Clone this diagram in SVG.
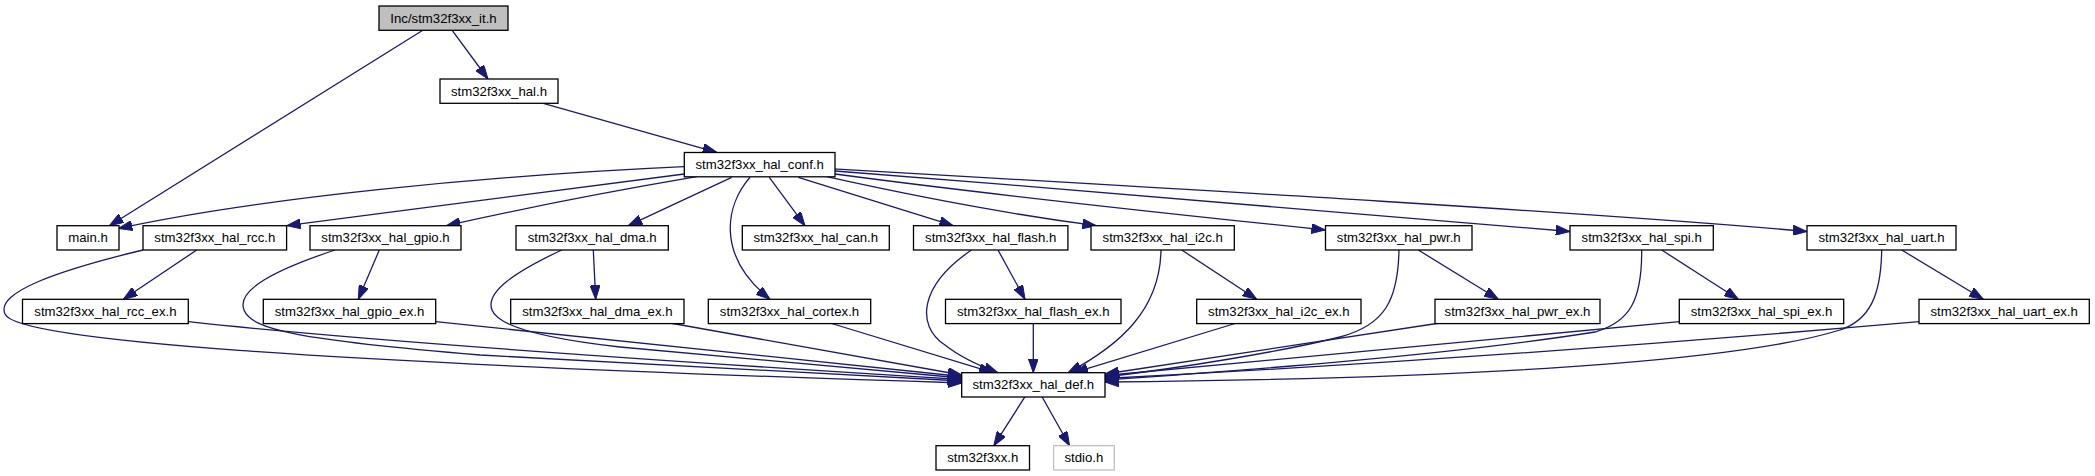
<svg xmlns="http://www.w3.org/2000/svg" width="2095" height="476" viewBox="0 0 2095 476">
<defs>
<style>
.n rect{fill:#fff;stroke:#000;stroke-width:1.3}
.n.root rect{fill:#bfbfbf}
.n.ext rect{stroke:#bfbfbf}
.n text{font-family:"Liberation Sans",Arial,Helvetica,sans-serif;font-size:13.2px;fill:#000;text-anchor:middle}
.e path{fill:none;stroke:#191970;stroke-width:1.3;marker-end:url(#ah)}
</style>
<marker id="ah" viewBox="0 0 14 10" refX="14" refY="5" markerWidth="14" markerHeight="10" markerUnits="userSpaceOnUse" orient="auto">
<path d="M0,0 L14,5 L0,10 z" fill="#191970" stroke="#191970" stroke-width="1"/>
</marker>
</defs>
<rect width="2095" height="476" fill="#fff"/>
<g id="edges" class="e">
<path d="M422.8,30.3 L109.4,225.7"/>
<path d="M452.2,30.3 L488,79"/>
<path d="M543.3,103.3 L716.7,152.3"/>
<path d="M684.3,166.7 C480,176 260,198 118.3,228.5"/>
<path d="M684.3,174 L286.6,225.7"/>
<path d="M696.7,176.7 Q560,200 446.4,225.7"/>
<path d="M731.7,177.3 L628.3,225.7"/>
<path d="M750,177.3 C726,205 715,255 770,299.3"/>
<path d="M769.3,177.3 L805,225.7"/>
<path d="M798.3,177.3 L953.3,225.7"/>
<path d="M826.7,176.7 C900,193 1000,213 1096.4,225.7"/>
<path d="M835,174 C1000,196 1200,217 1325.4,230"/>
<path d="M835,171 C1100,192 1400,216 1569.8,231.5"/>
<path d="M835,169 C1200,190 1600,213 1807,231.5"/>
<path d="M196.7,250 L123.3,299.3"/>
<path d="M379.3,250 L358.3,299.3"/>
<path d="M593.3,250 L595.7,299.3"/>
<path d="M998,250 L1025,299.3"/>
<path d="M1181.7,250 L1256.7,299.3"/>
<path d="M1418.3,250 L1498.3,299.3"/>
<path d="M1661.7,250 L1738.3,299.3"/>
<path d="M1901.7,250 L1983.3,299.3"/>
<path d="M143,250 C60,270 -5,292 5,314 C15,340 300,362 961.7,383"/>
<path d="M188.3,321.7 Q400,345 961.7,379.5"/>
<path d="M335,250 C275,270 236,290 244,310 C252,330 300,340 480,355 L961.7,381"/>
<path d="M435.7,321.7 L961.7,376.5"/>
<path d="M561.7,250 C515,272 485,292 492,310 C498,326 540,338 620,347 L961.7,378"/>
<path d="M670,323 L961.7,375"/>
<path d="M830,323 L993,372.7"/>
<path d="M971.5,250 C920,285 915,325 945,345 C960,357 980,366 998,372.7"/>
<path d="M1033.3,323 L1033.3,372.7"/>
<path d="M1161,250 C1160,310 1120,345 1068,372.7"/>
<path d="M1236.7,323 L1074,372.7"/>
<path d="M1399,250 C1398,300 1385,325 1340,337 C1280,352 1180,368 1105,377"/>
<path d="M1440,323 L1105,374"/>
<path d="M1641.7,250 C1642,300 1630,322 1595,332 C1450,355 1250,370 1105,380"/>
<path d="M1679.3,321.7 L1105,375.5"/>
<path d="M1881.7,250 C1881,295 1870,320 1840,330 C1760,355 1550,378 1105,382"/>
<path d="M1919,321.7 Q1500,358 1105,378.5"/>
<path d="M1025,396.7 L993.8,445.7"/>
<path d="M1042,396.7 L1069.6,445.7"/>
</g>
<g id="n_it" class="n root"><rect x="379" y="6" width="129" height="24.3"/><text x="443.5" y="22.7">Inc/stm32f3xx_it.h</text></g>
<g id="n_hal" class="n"><rect x="440" y="79" width="118" height="24.3"/><text x="499" y="95.7">stm32f3xx_hal.h</text></g>
<g id="n_conf" class="n"><rect x="684.3" y="152.5" width="150.7" height="24.3"/><text x="759.65" y="169.2">stm32f3xx_hal_conf.h</text></g>
<g id="n_main" class="n"><rect x="57" y="225.7" width="62" height="24.3"/><text x="88" y="242.4">main.h</text></g>
<g id="n_rcc" class="n"><rect x="143" y="225.7" width="143.6" height="24.3"/><text x="214.8" y="242.4">stm32f3xx_hal_rcc.h</text></g>
<g id="n_gpio" class="n"><rect x="310" y="225.7" width="151" height="24.3"/><text x="385.5" y="242.4">stm32f3xx_hal_gpio.h</text></g>
<g id="n_dma" class="n"><rect x="516" y="225.7" width="152.3" height="24.3"/><text x="592.15" y="242.4">stm32f3xx_hal_dma.h</text></g>
<g id="n_can" class="n"><rect x="742.3" y="225.7" width="147" height="24.3"/><text x="815.8" y="242.4">stm32f3xx_hal_can.h</text></g>
<g id="n_flash" class="n"><rect x="913.5" y="225.7" width="154.4" height="24.3"/><text x="990.7" y="242.4">stm32f3xx_hal_flash.h</text></g>
<g id="n_i2c" class="n"><rect x="1091" y="225.7" width="143.3" height="24.3"/><text x="1162.65" y="242.4">stm32f3xx_hal_i2c.h</text></g>
<g id="n_pwr" class="n"><rect x="1325.5" y="225.7" width="146.5" height="24.3"/><text x="1398.75" y="242.4">stm32f3xx_hal_pwr.h</text></g>
<g id="n_spi" class="n"><rect x="1570" y="225.7" width="143.3" height="24.3"/><text x="1641.65" y="242.4">stm32f3xx_hal_spi.h</text></g>
<g id="n_uart" class="n"><rect x="1807" y="225.7" width="149" height="24.3"/><text x="1881.5" y="242.4">stm32f3xx_hal_uart.h</text></g>
<g id="n_rcc_ex" class="n"><rect x="22.5" y="299.3" width="165.8" height="24.3"/><text x="105.4" y="316">stm32f3xx_hal_rcc_ex.h</text></g>
<g id="n_gpio_ex" class="n"><rect x="263.3" y="299.3" width="172.4" height="24.3"/><text x="349.5" y="316">stm32f3xx_hal_gpio_ex.h</text></g>
<g id="n_dma_ex" class="n"><rect x="510.7" y="299.3" width="173.3" height="24.3"/><text x="597.35" y="316">stm32f3xx_hal_dma_ex.h</text></g>
<g id="n_cortex" class="n"><rect x="708.3" y="299.3" width="162.4" height="24.3"/><text x="789.5" y="316">stm32f3xx_hal_cortex.h</text></g>
<g id="n_flash_ex" class="n"><rect x="945.5" y="299.3" width="175.5" height="24.3"/><text x="1033.25" y="316">stm32f3xx_hal_flash_ex.h</text></g>
<g id="n_i2c_ex" class="n"><rect x="1196.7" y="299.3" width="164.3" height="24.3"/><text x="1278.85" y="316">stm32f3xx_hal_i2c_ex.h</text></g>
<g id="n_pwr_ex" class="n"><rect x="1435" y="299.3" width="165" height="24.3"/><text x="1517.5" y="316">stm32f3xx_hal_pwr_ex.h</text></g>
<g id="n_spi_ex" class="n"><rect x="1679.3" y="299.3" width="164.4" height="24.3"/><text x="1761.5" y="316">stm32f3xx_hal_spi_ex.h</text></g>
<g id="n_uart_ex" class="n"><rect x="1919" y="299.3" width="170.3" height="24.3"/><text x="2004.15" y="316">stm32f3xx_hal_uart_ex.h</text></g>
<g id="n_def" class="n"><rect x="961.7" y="372.7" width="143.3" height="24.3"/><text x="1033.35" y="389.4">stm32f3xx_hal_def.h</text></g>
<g id="n_f3xx" class="n"><rect x="936" y="445.7" width="93.5" height="24.3"/><text x="982.75" y="462.4">stm32f3xx.h</text></g>
<g id="n_stdio" class="n ext"><rect x="1053.6" y="445.7" width="60.7" height="24.3"/><text x="1083.95" y="462.4">stdio.h</text></g>
</svg>
